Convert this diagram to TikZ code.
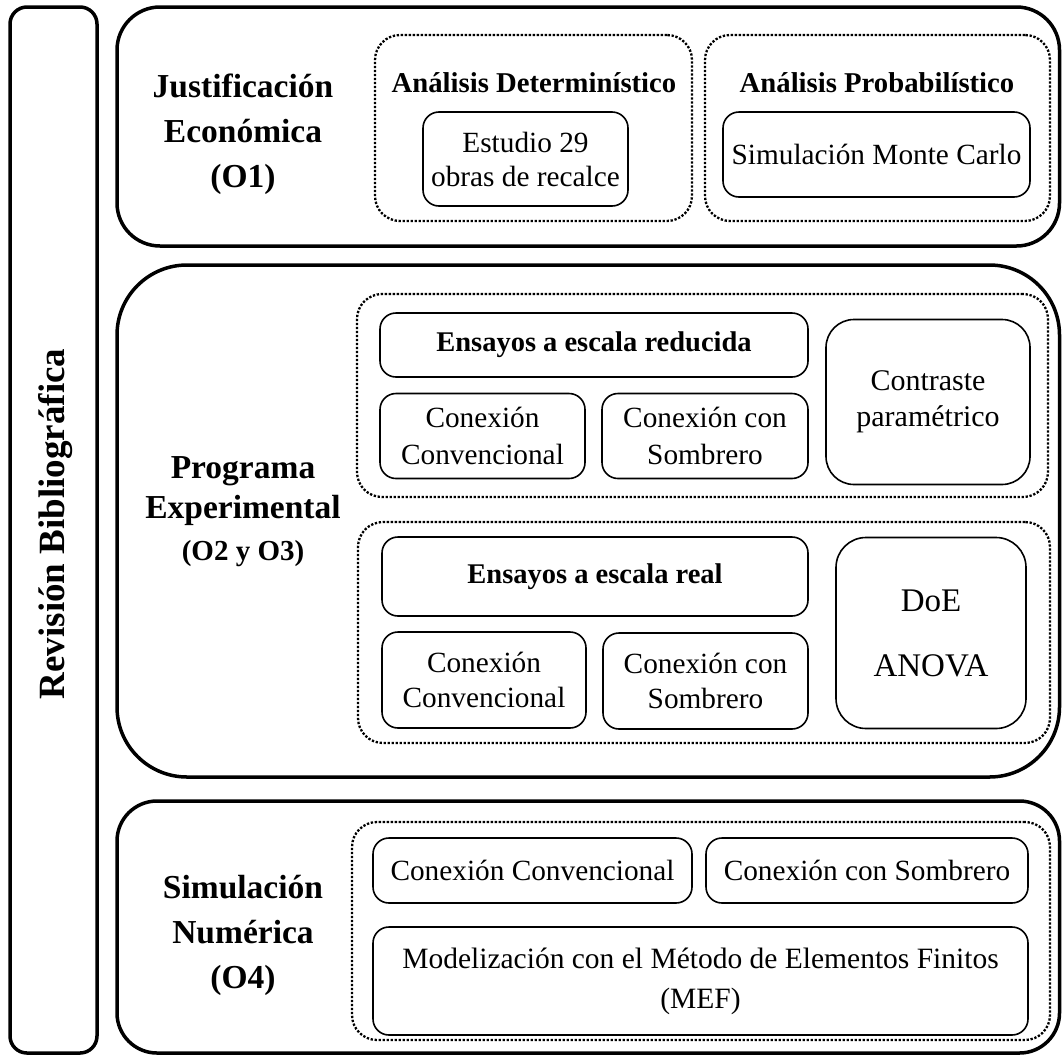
\documentclass[tikz,border=0pt]{standalone}
\usepackage{fontspec}
\setmainfont{Liberation Serif}
\begin{document}
\begin{tikzpicture}[x=1pt,y=-1pt,
  bigbox/.style={draw, line width=3.5pt, rectangle, inner sep=0pt},
  dotbox/.style={draw, line width=2.3pt, dash pattern=on 2.3pt off 1.7pt,
    rectangle, rounded corners=25pt, inner sep=0pt},
  ibox/.style={draw, line width=1.6pt, rectangle, rounded corners=16pt,
    inner sep=0pt, align=center, font=\fontsize{29.3}{35}\selectfont},
  head/.style={align=center, inner sep=0pt, font=\fontsize{28.7}{30}\selectfont\bfseries},
  side/.style={align=center, inner sep=0pt, font=\fontsize{33.5}{45}\selectfont\bfseries}]
\useasboundingbox (0,0) rectangle (1062,1055);

% left column
\node[bigbox, rounded corners=17pt, minimum width=87pt, minimum height=1046pt] (rev) at (53.5,530) {};
\node[rotate=90, font=\fontsize{37}{40}\selectfont\bfseries] (revtxt) at (56,524) {Revisión Bibliográfica};

% outer frames
\node[bigbox, rounded corners=43pt, minimum width=942.5pt, minimum height=239pt] (top) at (588.25,126.5) {};
\node[bigbox, rounded corners=70pt, minimum width=942.5pt, minimum height=512pt] (mid) at (588.25,521) {};
\node[bigbox, rounded corners=40pt, minimum width=942.5pt, minimum height=252pt] (bot) at (588.25,927) {};

% section labels
\node[side] (lblJ) at (243,134) {Justificación\\Económica\\(O1)};
\node[side, font=\fontsize{33.5}{40}\selectfont\bfseries] (lblP) at (243,512) {Programa\\Experimental\\[2pt]{\fontsize{29}{32}\selectfont (O2 y O3)}};
\node[side] (lblS) at (243,935) {Simulación\\Numérica\\(O4)};

% economic justification
\node[dotbox, minimum width=317pt, minimum height=186pt] (det) at (533.5,128) {};
\node[head] (dettxt) at (534,83) {Análisis Determinístico};
\node[ibox, minimum width=205pt, minimum height=94pt, font=\fontsize{29.3}{34}\selectfont] (est) at (525.5,159) {Estudio 29\\obras de recalce};
\node[dotbox, minimum width=345pt, minimum height=186pt] (prob) at (877.5,128) {};
\node[head] (probtxt) at (877,83) {Análisis Probabilístico};
\node[ibox, minimum width=307pt, minimum height=85pt] (mc) at (876.5,154.5) {Simulación Monte Carlo};

% experimental programme: reduced scale
\node[dotbox, minimum width=691pt, minimum height=203pt] (red) at (702.5,395.5) {};
\node[ibox, minimum width=428pt, minimum height=64pt, font=\fontsize{28.5}{30}\selectfont\bfseries] (ensred) at (594,345) {Ensayos a escala reducida};
\node[ibox, minimum width=205pt, minimum height=85pt, font=\fontsize{29.3}{37}\selectfont] (convred) at (482.5,436) {Conexión\\Convencional};
\node[ibox, minimum width=206pt, minimum height=85pt, font=\fontsize{29.3}{37}\selectfont] (sombred) at (705,436) {Conexión con\\Sombrero};
\node[ibox, rounded corners=28pt, minimum width=204pt, minimum height=165pt, font=\fontsize{30}{36}\selectfont] (contr) at (928,402) {Contraste\\paramétrico};

% experimental programme: full scale
\node[dotbox, minimum width=692pt, minimum height=221pt] (real) at (704,632.5) {};
\node[ibox, minimum width=426pt, minimum height=79pt, font=\fontsize{28.5}{30}\selectfont\bfseries] (ensreal) at (595,576.5) {Ensayos a escala real};
\node[ibox, minimum width=204pt, minimum height=96pt, font=\fontsize{29.3}{35}\selectfont] (convreal) at (484,680) {Conexión\\Convencional};
\node[ibox, minimum width=205pt, minimum height=96pt, font=\fontsize{29.3}{35}\selectfont] (sombreal) at (705.5,681) {Conexión con\\Sombrero};
\node[ibox, rounded corners=30pt, minimum width=190pt, minimum height=191pt, font=\fontsize{33}{65}\selectfont] (doe) at (931,633) {DoE\\ANOVA};

% numerical simulation
\node[dotbox, minimum width=698pt, minimum height=218pt] (num) at (701,931) {};
\node[ibox, minimum width=319pt, minimum height=65pt] (convnum) at (532.5,870.5) {Conexión Convencional};
\node[ibox, minimum width=322pt, minimum height=65pt] (sombnum) at (867,870.5) {Conexión con Sombrero};
\node[ibox, minimum width=655pt, minimum height=108pt, font=\fontsize{29.5}{40}\selectfont] (mef) at (700.5,981) {Modelización con el Método de Elementos Finitos\\(MEF)};
\end{tikzpicture}
\end{document}
